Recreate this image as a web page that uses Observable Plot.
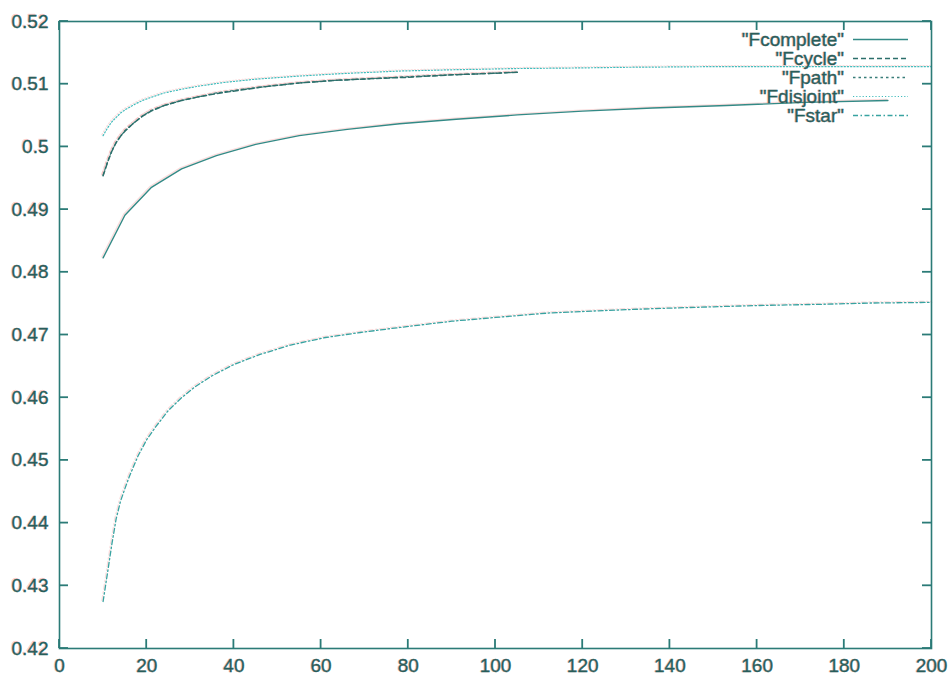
<!DOCTYPE html>
<html>
<head>
<meta charset="utf-8">
<script src="https://cdn.jsdelivr.net/npm/d3@7"></script>
<script src="https://cdn.jsdelivr.net/npm/@observablehq/plot@0.6"></script>
<style>
  html, body { margin: 0; padding: 0; background: #fff; }
  svg text { text-shadow: -1px -0.5px 0 rgba(255,90,90,0.25); stroke: #1d5f5c; stroke-width: 0.35px; }
</style>
</head>
<body>
<div id="chart"></div>
<script>
// ---- data ----
const seriesNames = ["Fcomplete", "Fcycle", "Fpath", "Fdisjoint", "Fstar"];

const xComplete = [10, 15, 21, 28, 36, 45, 55, 66, 78, 91, 105, 120, 136, 153, 171, 190];
const yComplete = [0.4823, 0.4891, 0.4935, 0.4965, 0.4986, 0.5004, 0.5018, 0.5028, 0.5037, 0.5044, 0.5051, 0.5057, 0.5062, 0.5066, 0.5071, 0.5074];

const xCycle = [10, 11, 12, 13, 14, 15, 17, 19, 21, 24, 28, 32, 36, 41, 47, 55, 63, 72, 80, 90, 98, 105];
const yCycle = [0.4954, 0.4975, 0.4993, 0.5007, 0.5017, 0.5025, 0.5038, 0.5049, 0.5057, 0.5066, 0.5074, 0.5080, 0.5085, 0.5090, 0.5096, 0.5102, 0.5106, 0.5109, 0.5111, 0.5115, 0.5117, 0.5119];

const xPath = [10, 11, 12, 13, 14, 15, 17, 19, 21, 24, 28, 32, 36, 41, 47, 55, 63, 72, 80, 90, 98, 105];
const yPath = [0.4955, 0.4976, 0.4994, 0.5007, 0.5017, 0.5026, 0.5038, 0.5049, 0.5058, 0.5066, 0.5074, 0.5080, 0.5086, 0.5091, 0.5096, 0.5102, 0.5106, 0.5109, 0.5112, 0.5115, 0.5117, 0.5119];

const xDisjoint = [10, 11, 12, 13, 14, 15, 17, 19, 21, 24, 28, 32, 38, 45, 55, 65, 78, 90, 105, 120, 130, 150, 175, 200];
const yDisjoint = [0.5018, 0.5030, 0.5040, 0.5047, 0.5054, 0.5059, 0.5067, 0.5074, 0.5079, 0.5086, 0.5092, 0.5097, 0.5103, 0.5108, 0.5113, 0.5117, 0.5121, 0.5123, 0.5125, 0.5126, 0.5127, 0.5128, 0.5128, 0.5128];

const xStar = [10, 11, 12, 13, 14, 15, 16, 18, 20, 22, 25, 28, 31, 35, 40, 46, 53, 61, 69, 78, 90, 100, 112, 125, 136, 150, 160, 175, 186, 200];
const yStar = [0.4275, 0.4320, 0.4366, 0.4407, 0.4435, 0.4455, 0.4474, 0.4507, 0.4533, 0.4553, 0.4580, 0.4600, 0.4617, 0.4635, 0.4653, 0.4669, 0.4684, 0.4696, 0.4704, 0.4712, 0.4722, 0.4728, 0.4735, 0.4739, 0.4742, 0.4745, 0.4747, 0.4749, 0.4751, 0.4752];

const xTicks = [0, 20, 40, 60, 80, 100, 120, 140, 160, 180, 200];
const yTicks = [0.42, 0.43, 0.44, 0.45, 0.46, 0.47, 0.48, 0.49, 0.50, 0.51, 0.52];

// ---- styles ----
const textColor = "#1d5f5c";
const frameColor = "#2b7b77";
const tickColor = frameColor;
const styles = {
  Fcomplete: {stroke: "#338a86", strokeWidth: 1.4, dash: null},
  Fcycle:    {stroke: "#2c6f6b", strokeWidth: 1.5, dash: "5,3"},
  Fpath:     {stroke: "#3a7e7a", strokeWidth: 1.3, dash: "2.5,3"},
  Fdisjoint: {stroke: "#42bcbc", strokeWidth: 1.2, dash: "1.2,2"},
  Fstar:     {stroke: "#38a3a1", strokeWidth: 1.3, dash: "5,2.5,1.5,2.5"}
};

const tables = {
  Fcomplete: xComplete.map((x, i) => ({x, y: yComplete[i]})),
  Fcycle: xCycle.map((x, i) => ({x, y: yCycle[i]})),
  Fpath: xPath.map((x, i) => ({x, y: yPath[i]})),
  Fdisjoint: xDisjoint.map((x, i) => ({x, y: yDisjoint[i]})),
  Fstar: xStar.map((x, i) => ({x, y: yStar[i]}))
};

const drawOrder = ["Fstar", "Fdisjoint", "Fpath", "Fcycle", "Fcomplete"];

const ghostMarks = drawOrder.map(name => Plot.line(tables[name], {
  x: "x", y: "y", stroke: "#f08a8a", strokeOpacity: 0.3,
  strokeWidth: styles[name].strokeWidth, strokeDasharray: styles[name].dash,
  dx: -1.2, dy: -1
}));

const lineMarks = drawOrder.map(name => Plot.line(tables[name], {
  x: "x", y: "y", stroke: styles[name].stroke,
  strokeWidth: styles[name].strokeWidth, strokeDasharray: styles[name].dash
}));

function legend(index, scales, values, dims) {
  const g = d3.create("svg:g")
    .attr("font-family", "'Liberation Sans', Arial, sans-serif")
    .attr("font-size", 19);
  const right = dims.width - dims.marginRight;
  seriesNames.forEach((name, i) => {
    const y = dims.marginTop + 18.5 + i * 19;
    g.append("text")
      .attr("x", right - 87).attr("y", y)
      .attr("dy", "0.35em")
      .attr("text-anchor", "end")
      .attr("fill", textColor)
      .text(`"${name}"`);
    g.append("line")
      .attr("x1", right - 78).attr("x2", right - 23)
      .attr("y1", y).attr("y2", y)
      .attr("stroke", styles[name].stroke)
      .attr("stroke-width", styles[name].strokeWidth)
      .attr("stroke-dasharray", styles[name].dash);
  });
  return g.node();
}

const fmtY = d => String(+d.toFixed(2));
const W = 948, H = 675, ML = 59, MR = 17, MT = 21, MB = 27;

const chart = Plot.plot({
  width: W,
  height: H,
  marginLeft: ML,
  marginRight: MR,
  marginTop: MT,
  marginBottom: MB,
  style: {fontFamily: "'Liberation Sans', Arial, sans-serif", fontSize: "19px", background: "#fff"},
  x: {domain: [0, 200]},
  y: {domain: [0.42, 0.52]},
  marks: [
    ...ghostMarks,
    ...lineMarks,
    Plot.frame({stroke: frameColor, strokeWidth: 1.6}),
    Plot.axisX({ticks: xTicks, tickSize: 0, tickPadding: 10, tickFormat: d => String(d), color: textColor, label: null}),
    Plot.axisY({ticks: yTicks, tickSize: 0, tickPadding: 11, tickFormat: fmtY, color: textColor, label: null}),
    legend
  ]
});

// inward tick marks on all four sides, placed with the chart's own scales
const sx = chart.scale("x"), sy = chart.scale("y");
const tg = d3.select(chart).append("g")
  .attr("stroke", tickColor)
  .attr("stroke-width", 1.8);
const L = ML, R = W - MR, T = MT, B = H - MB, len = 9;
xTicks.forEach(v => {
  const x = sx.apply(v);
  tg.append("line").attr("x1", x).attr("x2", x).attr("y1", B).attr("y2", B - len);
  tg.append("line").attr("x1", x).attr("x2", x).attr("y1", T).attr("y2", T + len);
});
yTicks.forEach(v => {
  const y = sy.apply(v);
  tg.append("line").attr("y1", y).attr("y2", y).attr("x1", L).attr("x2", L + len);
  tg.append("line").attr("y1", y).attr("y2", y).attr("x1", R).attr("x2", R - len);
});

document.getElementById("chart").appendChild(chart);
</script>
</body>
</html>
